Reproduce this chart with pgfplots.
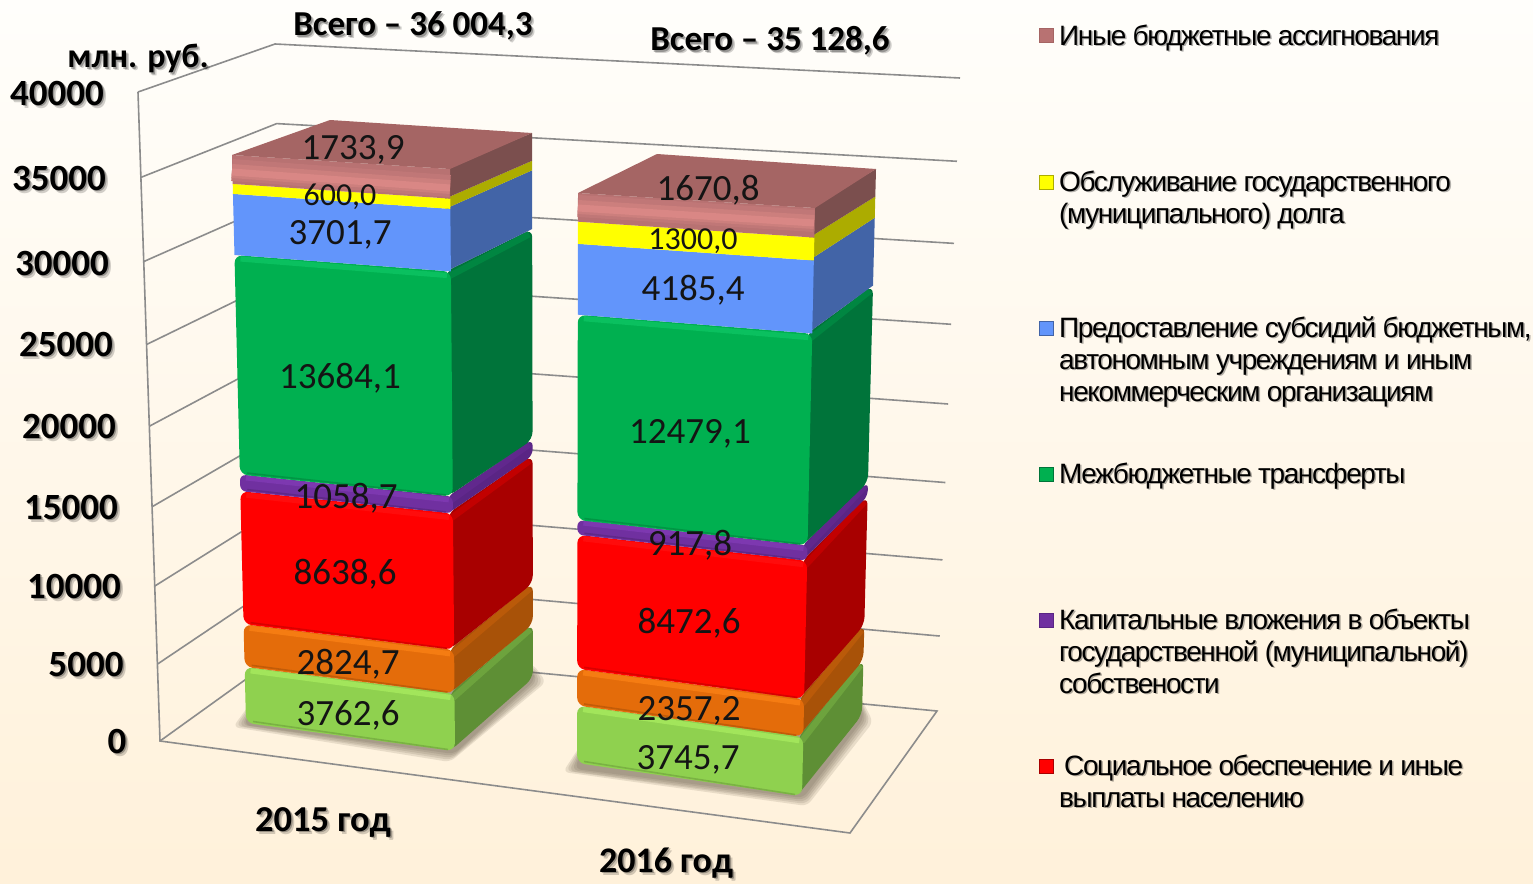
\documentclass[border=0pt]{standalone}
\usepackage{fontspec}
\setmainfont{Carlito}
\newfontfamily\legfont[LetterSpace=-5]{Liberation Sans}
\usepackage{pgfplots}
\pgfplotsset{compat=1.18}
\definecolor{bgT}{HTML}{FFFEFB}\definecolor{bgB}{HTML}{FFF1DA}
\definecolor{gridc}{HTML}{8C8C8C}
\definecolor{lgF}{HTML}{8FD14F}\definecolor{lgR}{HTML}{5E8F35}\definecolor{lgB}{HTML}{A2E55B}
\definecolor{orF}{HTML}{E46C0A}\definecolor{orR}{HTML}{A85208}\definecolor{orB}{HTML}{F57C12}
\definecolor{reF}{HTML}{FF0000}\definecolor{reR}{HTML}{A80000}\definecolor{reB}{HTML}{FF0C0C}
\definecolor{puF}{HTML}{7030A0}\definecolor{puR}{HTML}{5A2585}\definecolor{puB}{HTML}{7D38B0}
\definecolor{dgF}{HTML}{00B050}\definecolor{dgR}{HTML}{00743A}\definecolor{dgB}{HTML}{0AC05F}
\definecolor{blF}{HTML}{6295FB}\definecolor{blR}{HTML}{4264A7}
\definecolor{yeF}{HTML}{FFFF00}\definecolor{yeR}{HTML}{ACAC00}
\definecolor{roF}{HTML}{B87272}\definecolor{roR}{HTML}{7B4F4E}\definecolor{roB}{HTML}{D98785}\definecolor{roT}{HTML}{A56564}
\definecolor{shc}{HTML}{5E5240}
\newcommand\getpt[3]{%
 \pgfmathsetmacro\mytv{(#2)/\vmax}%
 \pgfmathsetmacro\myh{\mytv*(0.94+0.06*\mytv)}%
 \pgfmathsetmacro\myx{\csname #1xb\endcsname+(\csname #1xt\endcsname-\csname #1xb\endcsname)*\myh}%
 \pgfmathsetmacro\myy{\csname #1yb\endcsname+(\csname #1yt\endcsname-\csname #1yb\endcsname)*\myh}%
 \expandafter\let\csname #3x\endcsname\myx
 \expandafter\let\csname #3y\endcsname\myy}
\newcommand\seg[5]{%
 \pgfmathsetmacro\cumn{\cum+(#1)/1000}%
 \getpt{FL}{\cum}{flo}\getpt{FR}{\cum}{fro}\getpt{BR}{\cum}{bro}%
 \getpt{FL}{\cumn}{fln}\getpt{FR}{\cumn}{frn}\getpt{BR}{\cumn}{brn}%
 \addplot[fill=#3,draw=none,rounded corners=#5] coordinates {(\frox-5,\froy)(\brox,\broy)(\brnx,\brny)(\frnx-5,\frny)} --cycle;
 \ifdim #5>0pt
 \pgfmathsetmacro\cumb{min(4,0.2*abs(\floy-\flny))}%
 \addplot[draw=#3!70!#2,line width=1.6*\cumb pt] coordinates {(\frnx-2,\frny+1.2*\cumb)(\brnx-3,\brny+1.2*\cumb+0.5)};
 \fi
 \addplot[fill=#2,draw=none,rounded corners=#5] coordinates {(\flox,\floy)(\frox,\froy)(\frnx,\frny)(\flnx,\flny)} --cycle;
 \ifdim #5>0pt
 \addplot[draw=#4,line width=1.3*\cumb pt] coordinates {(\flnx+6,\flny+\cumb)(\frnx-4,\frny+\cumb)};
 \addplot[draw=#2!85!black,line width=1.6pt] coordinates {(\flox+7,\floy-1.5)(\frox-7,\froy-1.5)};
 \fi
 \global\let\cum\cumn}
\newcommand\wallline[1]{%
 \getpt{WL}{#1}{wa}\getpt{WB}{#1}{wb}\getpt{WR}{#1}{wc}%
 \addplot[draw=gridc,line width=1.6pt] coordinates {(\wax,\way)(\wbx,\wby)(\wcx,\wcy)};}
\newcommand\shadow[1]{%
 \addplot[fill=shc,draw=none,opacity=.14,rounded corners=6pt] coordinates {#1} --cycle;}
\newcommand\lbl[4][37]{\node[anchor=base,inner sep=0pt,text=black!92,yshift=-0.31*#1pt,font=\fontsize{#1}{#1}\selectfont] at (axis cs:#2,#3) {#4};}
\newcommand\blbl[4][37]{%
 \node[anchor=base,inner sep=0pt,text=black,opacity=.18,xshift=3pt,yshift=-0.31*#1pt-3pt,font=\fontsize{#1}{#1}\bfseries\selectfont] at (axis cs:#2,#3) {#4};
 \node[anchor=base,inner sep=0pt,text=black,opacity=.28,xshift=1.5pt,yshift=-0.31*#1pt-1.5pt,font=\fontsize{#1}{#1}\bfseries\selectfont] at (axis cs:#2,#3) {#4};
 \node[anchor=base,inner sep=0pt,text=black,yshift=-0.31*#1pt,font=\fontsize{#1}{#1}\bfseries\selectfont] at (axis cs:#2,#3) {#4};}
\newcommand\leg[3]{%
 \node[anchor=base west,inner sep=0pt,text=black,opacity=.3,xshift=1.5pt,yshift=-10.5pt,font=\fontsize{28}{28}\legfont] at (axis cs:#1,#2) {#3};
 \node[anchor=base west,inner sep=0pt,text=black,yshift=-9.5pt,font=\fontsize{28}{28}\legfont] at (axis cs:#1,#2) {#3};}
\newcommand\legmark[3]{\addplot[only marks,mark=square*,mark size=7pt,mark options={fill=#1,draw=#2,line width=1pt}] coordinates {(1046,#3)};}
\begin{document}
\begin{tikzpicture}
\useasboundingbox (0,0) rectangle (1533pt,883pt);
\begin{axis}[at={(0,0)},anchor=south west,scale only axis,width=1533pt,height=883pt,
  xmin=0,xmax=1533,ymin=0,ymax=883,y dir=reverse,hide axis,clip=false]
\shade[top color=bgT,bottom color=bgB] (axis cs:0,0) rectangle (axis cs:1533,883);
\def\WLxb{160}\def\WLyb{741}\def\WLxt{138}\def\WLyt{92}
\def\WBxb{288}\def\WByb{649}\def\WBxt{275}\def\WByt{44}
\def\WRxb{937}\def\WRyb{711}\def\WRxt{960}\def\WRyt{78}
\def\vmax{40}
\pgfplotsinvokeforeach{5,10,15,20,25,30,35,40}{\wallline{#1}}
\addplot[draw=gridc,line width=1.6pt] coordinates {(138,92)(160,741)(850,833)(937,711)(288,649)};
\addplot[draw=gridc,line width=1.6pt] coordinates {(160,741)(288,649)};
% 2015
\shadow{(233,727)(450,762)(546,682)(533,664)(250,704)}
\shadow{(236,726)(451,760)(543,682)(533,666)(250,706)}
\shadow{(239,726)(452,758)(540,682)(533,668)(250,708)}
\shadow{(242,725)(453,756)(537,681)(533,670)(250,710)}
\shadow{(244,725)(454,754)(535,680)(533,672)(250,712)}
\def\FLxb{246}\def\FLyb{723}\def\FLxt{232}\def\FLyt{155}
\def\FRxb{455}\def\FRyb{751}\def\FRxt{450}\def\FRyt{169}
\def\BRxb{533}\def\BRyb{678}\def\BRxt{532}\def\BRyt{133}
\def\vmax{36.0043}\gdef\cum{0}
\seg{3762.6}{lgF}{lgR}{lgB}{8pt}
\seg{2824.7}{orF}{orR}{orB}{8pt}
\seg{8638.6}{reF}{reR}{reB}{8pt}
\seg{1058.7}{puF}{puR}{puB}{6pt}
\seg{13684.1}{dgF}{dgR}{dgB}{8pt}
\seg{3701.7}{blF}{blR}{blF}{0pt}
\seg{600.0}{yeF}{yeR}{yeF}{0pt}
\seg{1733.9}{roF}{roR}{roB}{0pt}
\addplot[draw=roF!75!roB,line width=22pt] coordinates {(232,170)(450,186)};
\addplot[draw=roF!40!roB,line width=14pt] coordinates {(232,171)(450,187)};
\addplot[draw=roB,line width=7pt] coordinates {(232,172)(450,188)};
\addplot[fill=roT,draw=none] coordinates {(232,155)(450,169)(532,133)(330,120)} --cycle;
% 2016
\shadow{(563,772)(807,806)(873,722)(860,696)(580,746)}
\shadow{(566,771)(806,804)(870,721)(860,698)(580,748)}
\shadow{(569,771)(805,802)(868,720)(860,700)(580,750)}
\shadow{(572,770)(804,800)(866,719)(860,702)(580,752)}
\shadow{(575,769)(803,798)(864,718)(860,704)(580,754)}
\def\FLxb{577}\def\FLyb{763}\def\FLxt{578}\def\FLyt{193}
\def\FRxb{802}\def\FRyb{796}\def\FRxt{815}\def\FRyt{208}
\def\BRxb{862}\def\BRyb{715}\def\BRxt{876}\def\BRyt{169}
\def\vmax{35.1286}\gdef\cum{0}
\seg{3745.7}{lgF}{lgR}{lgB}{8pt}
\seg{2357.2}{orF}{orR}{orB}{8pt}
\seg{8472.6}{reF}{reR}{reB}{8pt}
\seg{917.8}{puF}{puR}{puB}{6pt}
\seg{12479.1}{dgF}{dgR}{dgB}{8pt}
\seg{4185.4}{blF}{blR}{blF}{0pt}
\seg{1300.0}{yeF}{yeR}{yeF}{0pt}
\seg{1670.8}{roF}{roR}{roB}{0pt}
\addplot[draw=roF!75!roB,line width=22pt] coordinates {(578,206)(814,221)};
\addplot[draw=roF!40!roB,line width=14pt] coordinates {(578,207)(814,222)};
\addplot[draw=roB,line width=7pt] coordinates {(578,208)(814,223)};
\addplot[fill=roT,draw=none] coordinates {(578,193)(815,208)(876,169)(657,154)} --cycle;
% value labels
\lbl{353}{148}{1733,9}\lbl[32]{340}{196}{600,0}\lbl{340}{233}{3701,7}\lbl{340}{377}{13684,1}
\lbl{346}{497}{1058,7}\lbl{345}{573}{8638,6}\lbl{348}{663}{2824,7}\lbl{348}{714}{3762,6}
\lbl{708}{189}{1670,8}\lbl[32]{693}{240}{1300,0}\lbl{693}{289}{4185,4}\lbl{690}{432}{12479,1}
\lbl{690}{544}{917,8}\lbl{689}{622}{8472,6}\lbl{689}{709}{2357,2}\lbl{688}{758}{3745,7}
% axis labels
\blbl{57}{94}{40000}\blbl{59}{179}{35000}\blbl{62}{264}{30000}\blbl{66}{345}{25000}\blbl{69}{427}{20000}
\blbl{71}{508}{15000}\blbl{74}{587}{10000}\blbl{86}{665}{5000}\blbl{117}{742}{0}
\blbl[34]{138}{57}{млн. руб.}\blbl[35]{413}{25}{Всего -- 36 004,3}\blbl[35]{770}{40}{Всего -- 35 128,6}
\blbl[36.5]{323}{820}{2015 год}\blbl[36]{666}{861}{2016 год}
% legend
\legmark{roF}{roT}{36}\legmark{yeF}{yeR}{182}\legmark{blF}{blR}{328}\legmark{dgF}{dgR}{474}\legmark{puF}{puR}{620}\legmark{reF}{reR}{766}
\leg{1059}{36}{Иные бюджетные ассигнования}
\leg{1059}{182}{Обслуживание государственного}
\leg{1059}{214}{(муниципального) долга}
\leg{1059}{328}{Предоставление субсидий бюджетным,}
\leg{1059}{360}{автономным учреждениям и иным}
\leg{1059}{392}{некоммерческим организациям}
\leg{1059}{474}{Межбюджетные трансферты}
\leg{1059}{620}{Капитальные вложения в объекты}
\leg{1059}{652}{государственной (муниципальной)}
\leg{1059}{684}{собствености}
\leg{1064}{766}{Социальное обеспечение и иные}
\leg{1059}{798}{выплаты населению}
\end{axis}
\end{tikzpicture}
\end{document}
